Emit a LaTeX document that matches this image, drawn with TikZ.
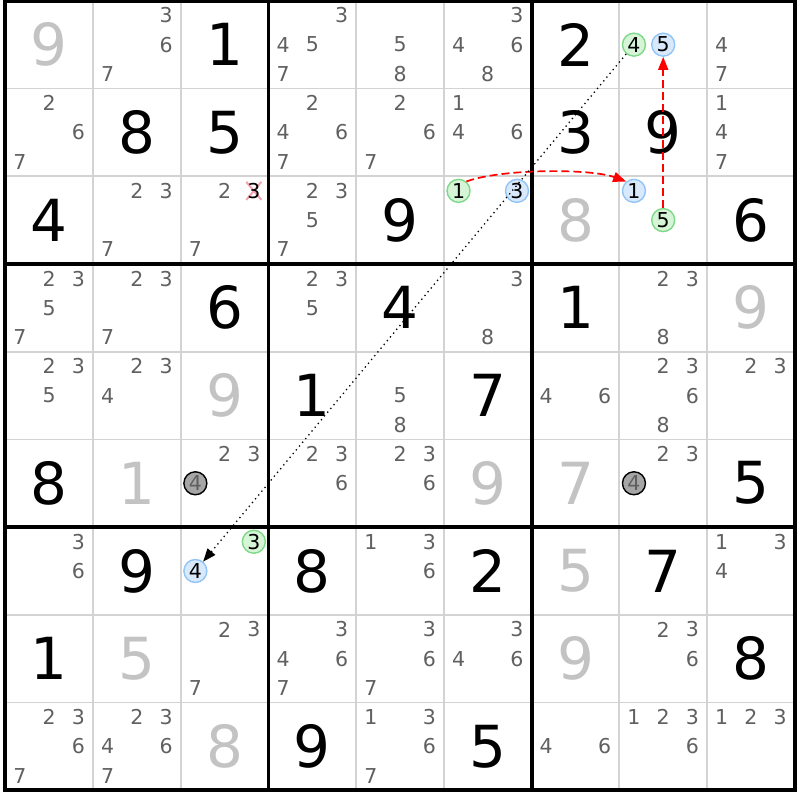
\documentclass[tikz,border=0pt]{standalone}
\usepackage{fontspec}
\setmainfont{DejaVu Sans}
\usepackage{tikz}
\usetikzlibrary{arrows.meta}

\definecolor{candgrey}{HTML}{606060}
\definecolor{solvedgrey}{HTML}{C3C3C3}
\definecolor{celline}{HTML}{D3D3D3}
\definecolor{greenline}{HTML}{7FD88A}
\definecolor{greenfill}{HTML}{D6F5D6}
\definecolor{blueline}{HTML}{92C5F5}
\definecolor{bluefill}{HTML}{D8E9FB}
\definecolor{greyfill}{HTML}{A6A6A6}
\definecolor{crosspink}{HTML}{F2A2AC}

\tikzset{
  given/.style={inner sep=0pt, font=\fontsize{58}{58}\selectfont},
  solved/.style={given, text=solvedgrey},
  cand/.style={inner sep=0pt, text=candgrey, font=\fontsize{20.5}{20.5}\selectfont},
  ring/.style={circle, inner sep=0pt, minimum size=23pt, line width=1.4pt, font=\fontsize{20.5}{20.5}\selectfont},
  ringgreen/.style={ring, draw=greenline, fill=greenfill},
  ringblue/.style={ring, draw=blueline, fill=bluefill},
  ringgrey/.style={ring, draw=black, fill=greyfill, text=candgrey},
  cellline/.style={draw=celline, line width=1.8pt},
  boxline/.style={draw=black, line width=3.8pt},
  link/.style={red, line width=1.7pt, dash pattern=on 8pt off 4pt, -{Triangle[length=13pt, width=10pt]}},
  chain/.style={black, line width=1.3pt, dash pattern=on 1.3pt off 3.6pt, -{Triangle[length=13pt, width=10pt]}},
  crossline/.style={crosspink, line width=2pt}
}

\begin{document}
\begin{tikzpicture}[x=1pt, y=-1pt]

\def\cs{87.72}
\useasboundingbox (-5.3,-0.8) rectangle (794.7,799.2);

% First, the thin lines between the cells
\foreach \i in {1,...,8} {
  \draw[cellline] (\i*\cs,0) -- (\i*\cs,9*\cs);
  \draw[cellline] (0,\i*\cs) -- (9*\cs,\i*\cs);
}

% Candidate positions: p<row><col><digit>, digit d sits in a 3x3 pattern in its cell
\foreach \r in {0,...,8} {
  \foreach \c in {0,...,8} {
    \foreach \d in {1,...,9} {
      \pgfmathsetmacro\px{(\c+(2*mod(\d-1,3)+1)/6)*\cs}
      \pgfmathsetmacro\py{(\r+(2*int((\d-1)/3)+1)/6)*\cs}
      \coordinate (p\r\c\d) at (\px,\py);
    }
  }
}

% Givens in black, solved cells in grey
\foreach \r/\c/\d in {0/2/1, 0/6/2, 1/1/8, 1/2/5, 1/6/3, 1/7/9, 2/0/4, 2/4/9, 2/8/6,
    3/2/6, 3/4/4, 3/6/1, 4/3/1, 4/5/7, 5/0/8, 5/8/5, 6/1/9, 6/3/8, 6/5/2, 6/7/7,
    7/0/1, 7/8/8, 8/3/9, 8/5/5}
  \node[given] (g\r\c) at ({(\c+0.5)*\cs},{(\r+0.5)*\cs}) {\d};
\foreach \r/\c/\d in {0/0/9, 2/6/8, 3/8/9, 4/2/9, 5/1/1, 5/5/9, 5/6/7, 6/6/5, 7/1/5, 7/6/9, 8/2/8}
  \node[solved] (g\r\c) at ({(\c+0.5)*\cs},{(\r+0.5)*\cs}) {\d};

% Plain candidates
\foreach \r/\c/\ds in {0/1/{3,6,7}, 0/3/{3,4,5,7}, 0/4/{5,8}, 0/5/{3,4,6,8}, 0/8/{4,7},
    1/0/{2,6,7}, 1/3/{2,4,6,7}, 1/4/{2,6,7}, 1/5/{1,4,6}, 1/8/{1,4,7},
    2/1/{2,3,7}, 2/2/{2,7}, 2/3/{2,3,5,7},
    3/0/{2,3,5,7}, 3/1/{2,3,7}, 3/3/{2,3,5}, 3/5/{3,8}, 3/7/{2,3,8},
    4/0/{2,3,5}, 4/1/{2,3,4}, 4/4/{5,8}, 4/6/{4,6}, 4/7/{2,3,6,8}, 4/8/{2,3},
    5/2/{2,3}, 5/3/{2,3,6}, 5/4/{2,3,6}, 5/7/{2,3},
    6/0/{3,6}, 6/4/{1,3,6}, 6/8/{1,3,4},
    7/2/{2,3,7}, 7/3/{3,4,6,7}, 7/4/{3,6,7}, 7/5/{3,4,6}, 7/7/{2,3,6},
    8/0/{2,3,6,7}, 8/1/{2,3,4,6,7}, 8/4/{1,3,6,7}, 8/6/{4,6}, 8/7/{1,2,3,6}, 8/8/{1,2,3}} {
  \foreach \d in \ds {
    \node[cand] (n\r\c\d) at (p\r\c\d) {\d};
  }
}

% The candidate that is struck out
\draw[crossline] (p223) +(-7.5,-9) -- +(7.5,9) +(7.5,-9) -- +(-7.5,9);
\node[cand, text=black] (n223) at (p223) {3};

% Marked candidates
\node[ringgreen] (n074) at (p074) {4};
\node[ringblue] (n075) at (p075) {5};
\node[ringgreen] (n251) at (p251) {1};
\node[ringblue] (n253) at (p253) {3};
\node[ringblue] (n271) at (p271) {1};
\node[ringgreen] (n275) at (p275) {5};
\node[ringgreen] (n623) at (p623) {3};
\node[ringblue] (n624) at (p624) {4};
\node[ringgrey] (n524) at (p524) {4};
\node[ringgrey] (n574) at (p574) {4};

% Box lines and frame
\foreach \i in {3,6} {
  \draw[boxline] (\i*\cs,0) -- (\i*\cs,9*\cs);
  \draw[boxline] (0,\i*\cs) -- (9*\cs,\i*\cs);
}
\draw[boxline] (0,0) rectangle (9*\cs,9*\cs);

% Links between the candidates
\draw[link] (n251.50) .. controls +(35,-13) and +(-35,-13) .. (n271.130);
\draw[link] (n275) -- (n075);
\draw[chain] (n074) -- (n624);

\end{tikzpicture}
\end{document}
